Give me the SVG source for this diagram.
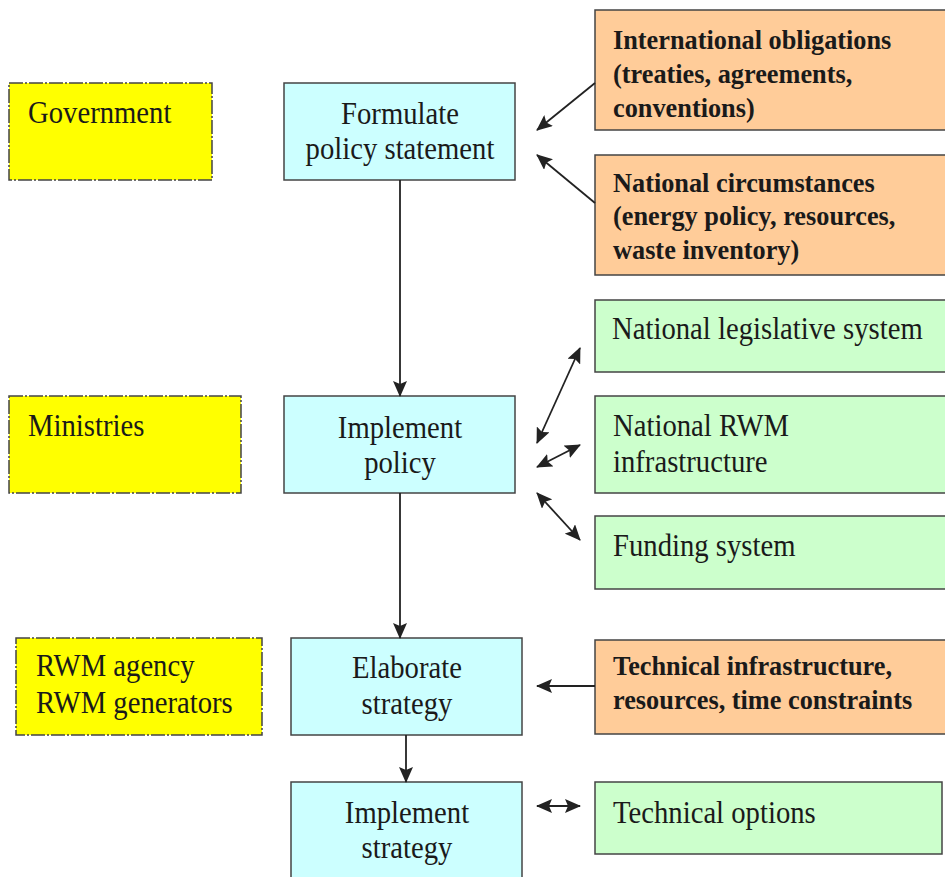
<svg xmlns="http://www.w3.org/2000/svg" width="945" height="877" viewBox="0 0 945 877">
  <style>
    .actor { fill: #ffff00; stroke: #444; stroke-width: 1.5; stroke-dasharray: 14 2 2 2; }
    .step { fill: #ccffff; stroke: #444; stroke-width: 1.5; }
    .input { fill: #ffcc99; stroke: #444; stroke-width: 1.5; }
    .system { fill: #ccffcc; stroke: #444; stroke-width: 1.5; }
    .t { font-family: "Liberation Serif", "Times New Roman", serif; font-size: 28.7px; fill: #1a1a1a; }
    .c { text-anchor: middle; }
    .b { font-family: "Liberation Serif", "Times New Roman", serif; font-size: 26.3px; font-weight: bold; fill: #1a1a1a; }
    .link { stroke: #222; stroke-width: 1.8; fill: none; }
    .one { marker-end: url(#head); }
    .two { marker-start: url(#head); marker-end: url(#head); }
  </style>
  <defs>
    <marker id="head" viewBox="0 0 16 14" refX="15" refY="7" markerWidth="16" markerHeight="14" markerUnits="userSpaceOnUse" orient="auto-start-reverse">
      <path d="M0,0 L16,7 L0,14 L3,7 z" fill="#222"/>
    </marker>
  </defs>
  <rect width="945" height="877" fill="#ffffff"/>

  <!-- responsible bodies -->
  <g id="government">
    <rect class="actor" x="9" y="83" width="203" height="97"/>
    <text class="t" transform="translate(28,123) scale(1,1.1)">Government</text>
  </g>
  <g id="ministries">
    <rect class="actor" x="9" y="396" width="232" height="97"/>
    <text class="t" transform="translate(28,436) scale(1,1.1)">Ministries</text>
  </g>
  <g id="rwm-bodies">
    <rect class="actor" x="16" y="638" width="246" height="97"/>
    <text class="t" transform="translate(36,676) scale(1,1.1)">RWM agency</text>
    <text class="t" transform="translate(36,713) scale(1,1.1)">RWM generators</text>
  </g>

  <!-- process steps -->
  <g id="formulate-policy">
    <rect class="step" x="284" y="83" width="231" height="97"/>
    <text class="t c" transform="translate(400,124) scale(1,1.1)">Formulate</text>
    <text class="t c" transform="translate(400,159) scale(1,1.1)">policy statement</text>
  </g>
  <g id="implement-policy">
    <rect class="step" x="284" y="396" width="231" height="97"/>
    <text class="t c" transform="translate(400,438) scale(1,1.1)">Implement</text>
    <text class="t c" transform="translate(400,473) scale(1,1.1)">policy</text>
  </g>
  <g id="elaborate-strategy">
    <rect class="step" x="291" y="638" width="231" height="97"/>
    <text class="t c" transform="translate(407,678) scale(1,1.1)">Elaborate</text>
    <text class="t c" transform="translate(407,714) scale(1,1.1)">strategy</text>
  </g>
  <g id="implement-strategy">
    <rect class="step" x="291" y="782" width="231" height="100"/>
    <text class="t c" transform="translate(407,823) scale(1,1.1)">Implement</text>
    <text class="t c" transform="translate(407,858) scale(1,1.1)">strategy</text>
  </g>

  <!-- external inputs -->
  <g id="international-obligations">
    <rect class="input" x="595" y="10" width="360" height="120"/>
    <text class="b" x="613" y="49">International obligations</text>
    <text class="b" x="613" y="83">(treaties, agreements,</text>
    <text class="b" x="613" y="117">conventions)</text>
  </g>
  <g id="national-circumstances">
    <rect class="input" x="595" y="155" width="360" height="120"/>
    <text class="b" x="613" y="192">National circumstances</text>
    <text class="b" x="613" y="225">(energy policy, resources,</text>
    <text class="b" x="613" y="259">waste inventory)</text>
  </g>
  <g id="technical-constraints">
    <rect class="input" x="595" y="640" width="360" height="94"/>
    <text class="b" x="613" y="675">Technical infrastructure,</text>
    <text class="b" x="613" y="709">resources, time constraints</text>
  </g>

  <!-- national systems -->
  <g id="legislative-system">
    <rect class="system" x="595" y="300" width="360" height="72"/>
    <text class="t" transform="translate(612,339) scale(1,1.1)">National legislative system</text>
  </g>
  <g id="rwm-infrastructure">
    <rect class="system" x="595" y="396" width="360" height="97"/>
    <text class="t" transform="translate(613,436) scale(1,1.1)">National RWM</text>
    <text class="t" transform="translate(613,472) scale(1,1.1)">infrastructure</text>
  </g>
  <g id="funding-system">
    <rect class="system" x="595" y="516" width="360" height="73"/>
    <text class="t" transform="translate(613,556) scale(1,1.1)">Funding system</text>
  </g>
  <g id="technical-options">
    <rect class="system" x="595" y="782" width="347" height="72"/>
    <text class="t" transform="translate(613,823) scale(1,1.1)">Technical options</text>
  </g>

  <!-- connectors -->
  <g id="connectors">
    <line class="link one" x1="400" y1="180" x2="400" y2="396"/>
    <line class="link one" x1="400" y1="493" x2="400" y2="638"/>
    <line class="link one" x1="406" y1="735" x2="406" y2="782"/>
    <line class="link one" x1="595" y1="83" x2="537" y2="130"/>
    <line class="link one" x1="595" y1="203" x2="537" y2="155"/>
    <line class="link two" x1="580" y1="348" x2="537" y2="443"/>
    <line class="link two" x1="580" y1="445" x2="537" y2="467"/>
    <line class="link two" x1="537" y1="493" x2="580" y2="540"/>
    <line class="link one" x1="595" y1="686" x2="537" y2="686"/>
    <line class="link two" x1="537" y1="806" x2="580" y2="806"/>
  </g>
</svg>
